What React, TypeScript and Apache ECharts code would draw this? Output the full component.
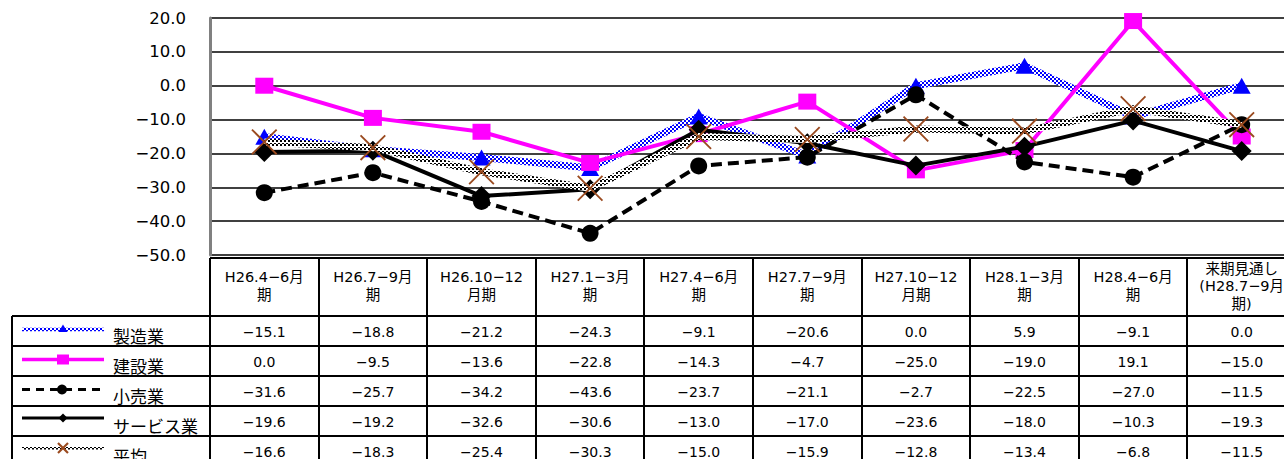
import React, { useEffect, useRef } from 'react';
import * as echarts from 'echarts';

const categories = [
  'H26.4−6月\n期',
  'H26.7−9月\n期',
  'H26.10−12\n月期',
  'H27.1−3月\n期',
  'H27.4−6月\n期',
  'H27.7−9月\n期',
  'H27.10−12\n月期',
  'H28.1−3月\n期',
  'H28.4−6月\n期',
  '来期見通し\n(H28.7−9月\n期)',
];
const seriesNames = ['製造業', '建設業', '小売業', 'サービス業', '平均'];
const manufacturing = [-15.1, -18.8, -21.2, -24.3, -9.1, -20.6, 0.0, 5.9, -9.1, 0.0];
const construction = [0.0, -9.5, -13.6, -22.8, -14.3, -4.7, -25.0, -19.0, 19.1, -15.0];
const retail = [-31.6, -25.7, -34.2, -43.6, -23.7, -21.1, -2.7, -22.5, -27.0, -11.5];
const services = [-19.6, -19.2, -32.6, -30.6, -13.0, -17.0, -23.6, -18.0, -10.3, -19.3];
const average = [-16.6, -18.3, -25.4, -30.3, -15.0, -15.9, -12.8, -13.4, -6.8, -11.5];
const yMin = -50;
const yMax = 20;
const yStep = 10;

const fmt = (v: number) => (v < 0 ? '−' : '') + Math.abs(v).toFixed(1);

const NUM_FONT = "'DejaVu Sans', 'Noto Sans CJK JP', sans-serif";
const CJK_FONT = "'Noto Sans CJK JP', sans-serif";

const GRID_LEFT = 210;
const GRID_TOP = 18;
const GRID_W = 1086;
const GRID_H = 240;
const GRID_BOTTOM = GRID_TOP + GRID_H;
const ROW_TOPS = [316, 346, 376, 406, 436];
const CHART_W = 1300;
const CHART_H = 459;

const X_PATH =
  'path://M0,1.0L1.0,0L10,9.0L19.0,0L20,1.0L11.0,10L20,19.0L19.0,20L10,11.0L1.0,20L0,19.0L9.0,10Z';

function makePattern(fg: string, blocks: number[][], size: number) {
  const c = document.createElement('canvas');
  c.width = size;
  c.height = size;
  const ctx = c.getContext('2d')!;
  ctx.fillStyle = '#ffffff';
  ctx.fillRect(0, 0, size, size);
  ctx.fillStyle = fg;
  blocks.forEach(([x, y, w, h]) => ctx.fillRect(x, y, w, h));
  return { image: c, repeat: 'repeat' as const };
}

export default function App() {
  const ref = useRef<HTMLDivElement>(null);

  useEffect(() => {
    if (!ref.current) return;
    const chart = echarts.init(ref.current, null, { renderer: 'svg' });

    const bluePat = makePattern('#0000ff', [[0, 0, 2, 2], [2, 2, 2, 2]], 4);
    const avgPat = makePattern('#000000', [[0, 0, 2, 2], [2, 3, 2, 1]], 4);

    const seriesData = [manufacturing, construction, retail, services, average];
    const colW = GRID_W / categories.length;

    const valueAxes = seriesData.map((arr, i) => ({
      type: 'category',
      gridIndex: 0,
      position: 'bottom',
      offset: ROW_TOPS[i] + 19 - GRID_BOTTOM,
      data: arr.map(fmt),
      boundaryGap: true,
      axisLine: { show: false },
      axisTick: { show: false },
      splitLine: { show: false },
      axisLabel: {
        interval: 0,
        margin: 0,
        verticalAlign: 'middle',
        fontSize: 14,
        fontFamily: NUM_FONT,
        color: '#000',
      },
    }));

    const graphics: any[] = [];
    const line = (x1: number, y1: number, x2: number, y2: number, stroke: any, lw: number, dash?: number[]) =>
      graphics.push({
        type: 'line',
        silent: true,
        shape: { x1, y1, x2, y2 },
        style: { stroke, lineWidth: lw, lineDash: dash || null },
        z: 10,
      });

    // table lines
    line(GRID_LEFT, GRID_BOTTOM, CHART_W, GRID_BOTTOM, '#000', 2);
    ROW_TOPS.forEach((y) => line(12, y, CHART_W, y, '#000', 2));
    line(12, ROW_TOPS[0], 12, CHART_H, '#000', 2);
    for (let k = 0; k <= categories.length; k++) {
      const x = Math.round(GRID_LEFT + k * colW);
      line(x, GRID_BOTTOM, x, CHART_H, '#000', 2);
    }

    // legend keys
    const lx1 = 22;
    const lx2 = 104;
    const mx = 63;
    ROW_TOPS.forEach((rt, i) => {
      const ky = rt + (i < 3 ? 13.5 : 12);
      if (i === 0) {
        line(lx1, ky, lx2, ky, bluePat, 3.5);
        graphics.push({
          type: 'polygon',
          silent: true,
          z: 11,
          shape: { points: [[mx, ky - 5], [mx - 4.5, ky + 2.5], [mx + 4.5, ky + 2.5]] },
          style: { fill: '#0000ff' },
        });
      } else if (i === 1) {
        line(lx1, ky, lx2, ky, '#ff00ff', 3.5);
        graphics.push({
          type: 'rect',
          silent: true,
          z: 11,
          shape: { x: mx - 6, y: ky - 5, width: 12, height: 10 },
          style: { fill: '#ff00ff' },
        });
      } else if (i === 2) {
        line(lx1, ky, lx2, ky, '#000', 3, [8, 6]);
        graphics.push({
          type: 'circle',
          silent: true,
          z: 11,
          shape: { cx: mx - 1, cy: ky, r: 5 },
          style: { fill: '#000' },
        });
      } else if (i === 3) {
        line(lx1, ky, lx2, ky, '#000', 3);
        graphics.push({
          type: 'polygon',
          silent: true,
          z: 11,
          shape: { points: [[mx, ky - 4.5], [mx + 4.5, ky], [mx, ky + 4.5], [mx - 4.5, ky]] },
          style: { fill: '#000' },
        });
      } else {
        line(lx1, ky, lx2, ky, avgPat, 3);
        graphics.push({
          type: 'line', silent: true, z: 11,
          shape: { x1: mx - 5, y1: ky - 5, x2: mx + 5, y2: ky + 5 },
          style: { stroke: '#9a4a1f', lineWidth: 2.2 },
        });
        graphics.push({
          type: 'line', silent: true, z: 11,
          shape: { x1: mx + 5, y1: ky - 5, x2: mx - 5, y2: ky + 5 },
          style: { stroke: '#9a4a1f', lineWidth: 2.2 },
        });
      }
      graphics.push({
        type: 'text',
        silent: true,
        z: 11,
        x: 113,
        y: rt + 19,
        style: {
          text: seriesNames[i],
          fill: '#000',
          fontSize: 17,
          fontFamily: CJK_FONT,
          align: 'left',
          verticalAlign: 'middle',
          textAlign: 'left',
          textVerticalAlign: 'middle',
        },
      });
    });

    const option: any = {
      animation: false,
      backgroundColor: '#ffffff',
      grid: { left: GRID_LEFT, top: GRID_TOP, width: GRID_W, height: GRID_H, containLabel: false },
      xAxis: [
        {
          type: 'category',
          gridIndex: 0,
          position: 'bottom',
          data: categories,
          boundaryGap: true,
          axisLine: { show: false },
          axisTick: { show: false },
          splitLine: { show: false },
          axisLabel: {
            interval: 0,
            margin: 31,
            verticalAlign: 'middle',
            lineHeight: 17.5,
            fontSize: 14.5,
            fontFamily: NUM_FONT,
            color: '#000',
          },
        },
        ...valueAxes,
      ],
      yAxis: {
        type: 'value',
        min: yMin,
        max: yMax,
        interval: yStep,
        axisLine: { show: true, lineStyle: { color: '#808080', width: 3 } },
        axisTick: { show: false },
        splitLine: { show: true, lineStyle: { color: '#000', width: 1.6 } },
        axisLabel: {
          margin: 24,
          fontSize: 16.5,
          fontFamily: NUM_FONT,
          color: '#000',
          formatter: (v: number) => fmt(v),
        },
      },
      series: [
        {
          name: seriesNames[0],
          type: 'line',
          data: manufacturing,
          symbol: 'triangle',
          symbolSize: [18, 16],
          itemStyle: { color: '#0000ff' },
          lineStyle: { color: bluePat, width: 7 },
          z: 2,
        },
        {
          name: seriesNames[1],
          type: 'line',
          data: construction,
          symbol: 'rect',
          symbolSize: [18, 16],
          itemStyle: { color: '#ff00ff' },
          lineStyle: { color: '#ff00ff', width: 4 },
          z: 3,
        },
        {
          name: seriesNames[2],
          type: 'line',
          data: retail,
          symbol: 'circle',
          symbolSize: 17,
          itemStyle: { color: '#000' },
          lineStyle: { color: '#000', width: 4, type: [11, 6] },
          z: 4,
        },
        {
          name: seriesNames[3],
          type: 'line',
          data: services,
          symbol: 'diamond',
          symbolSize: [20, 20],
          itemStyle: { color: '#000' },
          lineStyle: { color: '#000', width: 4 },
          z: 5,
        },
        {
          name: seriesNames[4],
          type: 'line',
          data: average,
          symbol: X_PATH,
          symbolSize: 26,
          itemStyle: { color: '#9a4a1f' },
          lineStyle: { color: avgPat, width: 7 },
          z: 6,
        },
      ],
      graphic: { elements: graphics },
    };

    chart.setOption(option);
    return () => chart.dispose();
  }, []);

  return (
    <div style={{ position: 'fixed', left: 0, top: 0, width: 1284, height: 459, overflow: 'hidden', background: '#fff' }}>
      <div ref={ref} style={{ width: CHART_W, height: CHART_H }} />
    </div>
  );
}
